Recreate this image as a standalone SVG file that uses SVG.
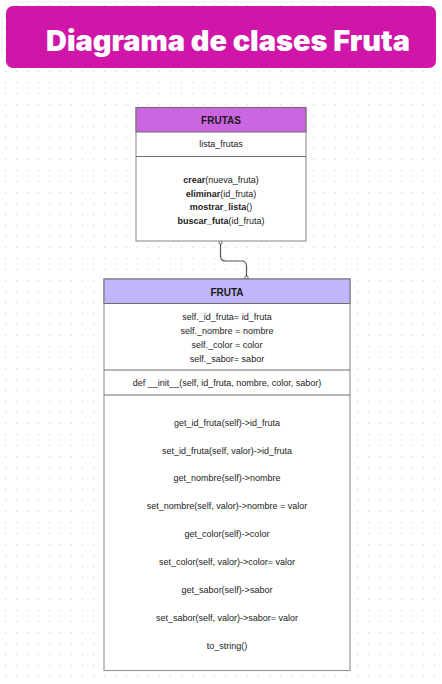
<svg xmlns="http://www.w3.org/2000/svg" width="442" height="684" viewBox="0 0 442 684">
<defs>
<pattern id="dots" x="0" y="0" width="11" height="11" patternUnits="userSpaceOnUse">
<circle cx="5.5" cy="5.5" r="0.7" fill="#d4d4d4"/>
</pattern>
<style>
.box{fill:#ffffff;stroke:#9a9a9a;stroke-width:1.2}
.div{stroke:#6e6e6e;stroke-width:1}
.t{font-family:"Liberation Sans",Arial,sans-serif;font-size:9px;fill:#222;text-anchor:middle}
.b{font-weight:bold}
.h{font-family:"Liberation Sans",Arial,sans-serif;font-size:10px;font-weight:bold;fill:#1a1a1a;text-anchor:middle}
.conn{fill:none;stroke:#555;stroke-width:1.2}
.end{fill:#fff;stroke:#555;stroke-width:1}
</style>
</defs>
<rect width="442" height="684" fill="#ffffff"/>
<rect width="442" height="684" fill="url(#dots)"/>
<g id="title">
<rect x="6" y="6" width="430" height="62" rx="7" fill="#d016a9"/>
<text x="46" y="51" font-family="Inter,'Noto Sans',sans-serif" font-weight="900" font-size="28" fill="#ffffff" textLength="364" lengthAdjust="spacingAndGlyphs">Diagrama de clases Fruta</text>
</g>
<g id="connectors">
<path class="conn" d="M220.5 241 V256 Q220.5 261 225.5 261 H241.5 Q246.5 261 246.5 266 V279"/>
<circle class="end" cx="220.5" cy="242.5" r="1.6"/>
<circle class="end" cx="246.5" cy="277.5" r="1.6"/>
</g>
<g id="node-frutas">
<rect class="box" x="136" y="107.5" width="170" height="133.5"/>
<rect x="136" y="107.5" width="170" height="24.5" fill="#cc66e0" stroke="#6e6e6e" stroke-width="1"/>
<text class="h" x="221" y="123.5">FRUTAS</text>
<line class="div" x1="136" y1="156.5" x2="306" y2="156.5"/>
<text class="t" x="221" y="147">lista_frutas</text>
<text class="t" x="221" y="183"><tspan class="b">crear</tspan>(nueva_fruta)</text>
<text class="t" x="221" y="196.5"><tspan class="b">eliminar</tspan>(id_fruta)</text>
<text class="t" x="221" y="210"><tspan class="b">mostrar_lista</tspan>()</text>
<text class="t" x="221" y="223.5"><tspan class="b">buscar_futa</tspan>(id_fruta)</text>
</g>
<g id="node-fruta">
<rect class="box" x="104" y="279" width="246" height="391.5"/>
<rect x="104" y="279" width="246" height="24.5" fill="#c0b6fb" stroke="#6e6e6e" stroke-width="1"/>
<text class="h" x="227" y="295.5">FRUTA</text>
<text class="t" x="227" y="319.5">self._id_fruta= id_fruta</text>
<text class="t" x="227" y="333.5">self._nombre = nombre</text>
<text class="t" x="227" y="347.5">self._color = color</text>
<text class="t" x="227" y="361.5">self._sabor= sabor</text>
<line class="div" x1="104" y1="370" x2="350" y2="370"/>
<text class="t" x="227" y="385.5">def __init__(self, id_fruta, nombre, color, sabor)</text>
<line class="div" x1="104" y1="395" x2="350" y2="395"/>
<text class="t" x="227" y="425.5">get_id_fruta(self)-&gt;id_fruta</text>
<text class="t" x="227" y="453.5">set_id_fruta(self, valor)-&gt;id_fruta</text>
<text class="t" x="227" y="481">get_nombre(self)-&gt;nombre</text>
<text class="t" x="227" y="509">set_nombre(self, valor)-&gt;nombre = valor</text>
<text class="t" x="227" y="537">get_color(self)-&gt;color</text>
<text class="t" x="227" y="565">set_color(self, valor)-&gt;color= valor</text>
<text class="t" x="227" y="593">get_sabor(self)-&gt;sabor</text>
<text class="t" x="227" y="621">set_sabor(self, valor)-&gt;sabor= valor</text>
<text class="t" x="227" y="649">to_string()</text>
</g>
</svg>
